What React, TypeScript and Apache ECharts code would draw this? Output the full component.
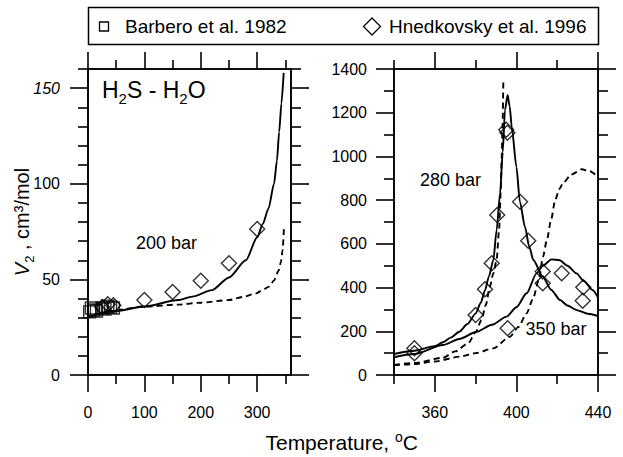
import React, { useEffect, useRef } from "react";
import * as echarts from "echarts";

// ---------- Data ----------
// Left panel: V2 (cm3/mol) vs T (°C), 200 bar
const leftSolid200: [number, number][] = [
  [0, 30.5], [50, 33.5], [100, 35.8], [160, 39.2], [185, 41], [220, 44.4], [250, 51],
  [280, 60], [300, 72], [310, 79], [320, 87], [330, 100], [335, 112], [339, 127],
  [343, 142], [347, 158],
];
const leftDashed200: [number, number][] = [
  [0, 30], [40, 33.5], [100, 35.8], [160, 36.8], [200, 37.8], [250, 39.2], [275, 40.8],
  [298, 42.7], [310, 44.5], [321, 46.2], [330, 49.5], [338, 54.5], [342, 59], [345, 65],
  [347.5, 77],
];
const leftBarbero: [number, number][] = [
  [3, 33], [6, 35], [10, 34], [15, 33.5], [25, 35], [30, 34.5], [35, 36], [40, 35.5], [45, 35],
];
const leftHnedkovsky: [number, number][] = [
  [25, 35.5], [35, 37], [45, 36.5], [100, 39.2], [150, 43.4], [200, 49.3], [250, 58.4], [300, 76.3],
];

// Right panel: 280 bar and 350 bar
const right280Solid: [number, number][] = [
  [340, 96], [350, 111], [360, 132], [364, 150], [368, 172], [372, 198], [376, 233], [380, 281],
  [382.5, 330], [384.6, 387], [386.5, 450], [388.7, 526], [390.3, 663], [392, 831], [393.3, 1020],
  [394.4, 1212], [395.7, 1281], [396.7, 1230], [397.7, 1136], [400, 953], [401.7, 793],
  [404.2, 678], [406.3, 587], [408.3, 526], [412.9, 450], [417, 390], [421.4, 343], [425, 318],
  [429.5, 297], [435, 280], [440, 270],
];
const right280Dashed: [number, number][] = [
  [340, 46], [350, 55], [364, 79], [370, 108], [376.4, 145], [380, 195], [382.9, 252], [385, 320],
  [387, 404], [388.7, 465], [390.3, 526], [391.5, 663], [392.3, 831], [392.8, 1000],
  [393.2, 1136], [393.6, 1349],
];
const right350Solid: [number, number][] = [
  [340, 81], [349.8, 96], [364, 137], [372, 165], [380.5, 198], [388, 230], [395.2, 267],
  [400, 310], [405, 374], [409.9, 465], [413, 500], [417.2, 529], [421.2, 525], [425, 500],
  [429.5, 465], [433, 430], [437.3, 389], [440, 355],
];
const right350Dashed: [number, number][] = [
  [340, 44], [349.8, 50], [360, 62], [372.4, 84], [380, 100], [388.7, 122], [396.8, 175],
  [401, 220], [405, 282], [408, 345], [411, 435], [413, 540], [415, 620], [417, 710],
  [419, 800], [421, 850], [423, 880], [427, 918], [432, 941], [436, 932], [440, 907],
];
const rightHnedkovsky: [number, number][] = [
  [350, 122], [350, 99], [380, 274], [384.6, 392], [387.9, 511], [390.6, 732], [395, 1122],
  [395.6, 1108], [401.8, 793], [405.8, 614], [395.7, 214], [412.9, 473], [412.9, 420],
  [422.2, 465], [432.8, 401], [432.5, 340],
];

// Ticks
const T_LEFT_MAJOR = [0, 100, 200, 300];
const T_LEFT_MINOR = [50, 150, 250, 350];
const V_LEFT_MAJOR = [0, 50, 100, 150];
const V_LEFT_MINOR = [10, 20, 30, 40, 60, 70, 80, 90, 110, 120, 130, 140, 160];
const T_RIGHT_MAJOR = [360, 400, 440];
const T_RIGHT_MINOR = [340, 380, 420];
const V_RIGHT_MAJOR = [0, 200, 400, 600, 800, 1000, 1200, 1400];
const V_RIGHT_MINOR = [100, 300, 500, 700, 900, 1100, 1300];

const FONT = '"Liberation Sans", Arial, Helvetica, sans-serif';
const LINE = { color: "#000", width: 1.6 };

function mkAxis(
  gridIndex: number,
  position: string,
  min: number,
  max: number,
  ticks: number[],
  len: number,
  label: any
) {
  return {
    type: "value",
    gridIndex,
    position,
    min,
    max,
    axisLine: { show: true, onZero: false, lineStyle: LINE },
    axisTick: { show: true, inside: false, length: len, customValues: ticks, lineStyle: LINE },
    axisLabel: label ? { show: true, customValues: ticks, ...label } : { show: false },
    splitLine: { show: false },
    minorTick: { show: false },
    minorSplitLine: { show: false },
  };
}

const baseLabel = {
  color: "#000",
  fontSize: 16,
  fontFamily: FONT,
  formatter: (v: number) => String(v),
};

const lineSeries = (data: [number, number][], idx: number, dashed: boolean) => ({
  type: "line",
  xAxisIndex: idx,
  yAxisIndex: idx,
  data,
  showSymbol: false,
  smooth: 0.25,
  smoothMonotone: "x",
  silent: true,
  lineStyle: { color: "#000", width: 1.9, type: dashed ? [6, 4] : "solid" },
  z: 3,
});

const scatterSeries = (data: [number, number][], idx: number, symbol: string, size: number) => ({
  type: "scatter",
  xAxisIndex: idx,
  yAxisIndex: idx,
  data,
  symbol,
  symbolSize: size,
  silent: true,
  itemStyle: { color: "rgba(255,255,255,0)", borderColor: "#000", borderWidth: 1.4 },
  z: 4,
});

const txt = (x: number, y: number, text: string, size: number, align = "left", extra: any = {}) => ({
  type: "text",
  x,
  y,
  z: 10,
  style: {
    text,
    fontSize: size,
    fontFamily: FONT,
    fill: "#000",
    align,
    verticalAlign: "middle",
    ...extra,
  },
});

const option: any = {
  animation: false,
  backgroundColor: "#fff",
  grid: [
    { left: 88, top: 69, width: 203, height: 306 },
    { left: 394, top: 69, width: 204, height: 306 },
  ],
  xAxis: [
    mkAxis(0, "bottom", 0, 360, T_LEFT_MAJOR, 17, { ...baseLabel, margin: 29 }),
    mkAxis(0, "bottom", 0, 360, T_LEFT_MINOR, 9, null),
    mkAxis(0, "top", 0, 360, T_LEFT_MAJOR, 17, null),
    mkAxis(0, "top", 0, 360, T_LEFT_MINOR, 9, null),
    mkAxis(1, "bottom", 340, 440, T_RIGHT_MAJOR, 17, { ...baseLabel, margin: 29 }),
    mkAxis(1, "bottom", 340, 440, T_RIGHT_MINOR, 9, null),
    mkAxis(1, "top", 340, 440, T_RIGHT_MAJOR, 17, null),
    mkAxis(1, "top", 340, 440, T_RIGHT_MINOR, 9, null),
  ],
  yAxis: [
    mkAxis(0, "left", 0, 160, V_LEFT_MAJOR, 18, {
      ...baseLabel,
      margin: 28,
      formatter: (v: number) => (v === 150 ? "{it|150}" : String(v)),
      rich: { it: { fontStyle: "italic", fontSize: 16, fontFamily: FONT, color: "#000" } },
    }),
    mkAxis(0, "left", 0, 160, V_LEFT_MINOR, 10, null),
    mkAxis(0, "right", 0, 160, V_LEFT_MAJOR, 18, null),
    mkAxis(0, "right", 0, 160, V_LEFT_MINOR, 10, null),
    mkAxis(1, "left", 0, 1400, V_RIGHT_MAJOR, 18, { ...baseLabel, margin: 27 }),
    mkAxis(1, "left", 0, 1400, V_RIGHT_MINOR, 10, null),
    mkAxis(1, "right", 0, 1400, V_RIGHT_MAJOR, 18, null),
    mkAxis(1, "right", 0, 1400, V_RIGHT_MINOR, 10, null),
  ],
  series: [
    lineSeries(leftSolid200, 0, false),
    lineSeries(leftDashed200, 0, true),
    scatterSeries(leftBarbero, 0, "rect", 12),
    scatterSeries(leftHnedkovsky, 0, "diamond", 15),
    lineSeries(right280Solid, 4, false),
    lineSeries(right280Dashed, 4, true),
    lineSeries(right350Solid, 4, false),
    lineSeries(right350Dashed, 4, true),
    scatterSeries(rightHnedkovsky, 4, "diamond", 15),
  ],
  graphic: [
    // legend
    {
      type: "rect",
      z: 9,
      shape: { x: 88.5, y: 7.5, width: 510, height: 37 },
      style: { fill: "#fff", stroke: "#000", lineWidth: 1.5 },
    },
    {
      type: "rect",
      z: 10,
      shape: { x: 99.5, y: 22, width: 9, height: 9 },
      style: { fill: "none", stroke: "#000", lineWidth: 1.3 },
    },
    txt(125, 26.5, "Barbero et al. 1982", 19),
    {
      type: "polygon",
      z: 10,
      shape: { points: [[372, 18], [380.5, 26.5], [372, 35], [363.5, 26.5]] },
      style: { fill: "none", stroke: "#000", lineWidth: 1.3 },
    },
    txt(389, 26.5, "Hnedkovsky et al. 1996", 19),
    // panel annotations
    txt(102, 90, "{m|H}{s|2}{m|S - H}{s|2}{m|O}", 23, "left", {
      rich: {
        m: { fontSize: 23, lineHeight: 24, fontFamily: FONT, fill: "#000" },
        s: { fontSize: 15, lineHeight: 31, fontFamily: FONT, fill: "#000", verticalAlign: "bottom" },
      },
    }),
    txt(197, 243, "200 bar", 18, "right"),
    txt(420, 179.5, "280 bar", 18, "left"),
    txt(525.5, 329, "350 bar", 18, "left"),
    // axis titles
    txt(341.7, 442, "{m|Temperature, }{p|o}{m|C}", 21, "center", {
      rich: {
        m: { fontSize: 21, lineHeight: 22, fontFamily: FONT, fill: "#000" },
        p: { fontSize: 14, lineHeight: 24, fontFamily: FONT, fill: "#000", verticalAlign: "top" },
      },
    }),
    {
      ...txt(22, 222, "{i|V}{s|2}{m| , cm³/mol}", 20, "center", {
        rich: {
          i: { fontSize: 20, lineHeight: 21, fontFamily: FONT, fill: "#000", fontStyle: "italic" },
          m: { fontSize: 20, lineHeight: 21, fontFamily: FONT, fill: "#000" },
          s: { fontSize: 13, lineHeight: 28, fontFamily: FONT, fill: "#000", verticalAlign: "bottom" },
        },
      }),
      rotation: Math.PI / 2,
    },
  ],
};

export default function App() {
  const ref = useRef<HTMLDivElement>(null);
  useEffect(() => {
    if (!ref.current) return;
    const chart = echarts.init(ref.current, null, { renderer: "svg" });
    chart.setOption(option);
    return () => chart.dispose();
  }, []);
  return (
    <div
      ref={ref}
      style={{ position: "fixed", left: 0, top: 0, width: 623, height: 457, background: "#fff" }}
    />
  );
}
